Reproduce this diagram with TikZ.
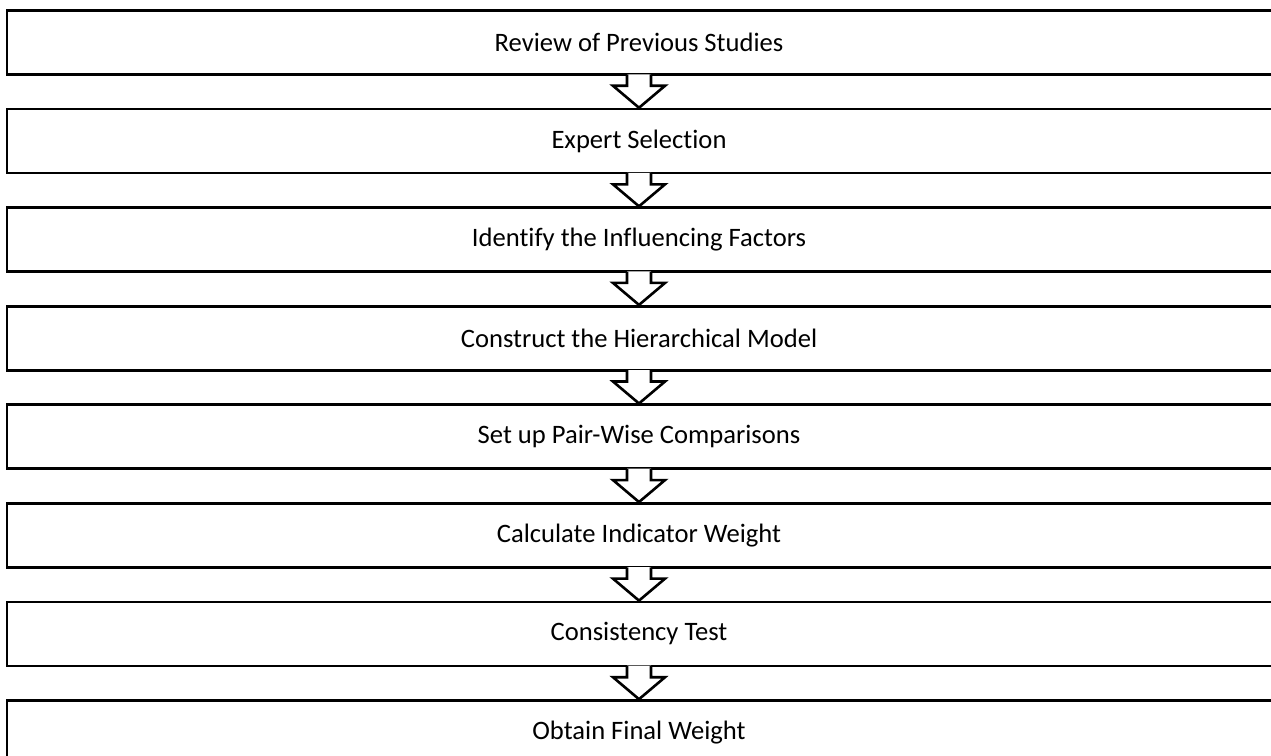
\documentclass[tikz,border=0pt]{standalone}
\usepackage{fontspec}
\setmainfont[Ligatures=NoCommon]{Carlito}
\usetikzlibrary{calc}
\begin{document}
\begin{tikzpicture}[x=1pt,y=1pt,
  box/.style={draw, line width=2.6pt, minimum width=1284pt, minimum height=64pt, inner sep=0pt, anchor=west},
  lbl/.style={font=\fontsize{26.6}{31}\selectfont, inner sep=0pt},
  arrowline/.style={draw, line width=2.6pt, line join=miter},
  arrowfill/.style={fill=white}]
\useasboundingbox (0,0) rectangle (1271,755);
\clip (0,0) rectangle (1271,755);
\foreach [count=\i] \t in {Review of Previous Studies, Expert Selection, Identify the Influencing Factors, Construct the Hierarchical Model, Set up Pair-Wise Comparisons, Calculate Indicator Weight, Consistency Test, Obtain Final Weight}{
  \pgfmathsetmacro\yc{755-42.5-98.57*(\i-1)}
  \node[box] (b\i) at (5.5,\yc) {};
  \node[lbl] (t\i) at (639,\yc) {\t};
}
\foreach \i in {1,...,7}{
  \pgfmathtruncatemacro\j{\i+1}
  \coordinate (s\i) at (t\i |- b\i.south);
  \coordinate (e\i) at (t\i |- b\j.north);
  \path[arrowfill] ($(s\i)+(-12,1.5)$) -- ($(s\i)+(-12,-10)$) -- ($(s\i)+(-26,-10)$) -- (e\i) -- ($(s\i)+(26,-10)$) -- ($(s\i)+(12,-10)$) -- ($(s\i)+(12,1.5)$) -- cycle;
  \path[arrowline] ($(s\i)+(-12,1.3)$) -- ($(s\i)+(-12,-10)$) -- ($(s\i)+(-26,-10)$) -- (e\i) -- ($(s\i)+(26,-10)$) -- ($(s\i)+(12,-10)$) -- ($(s\i)+(12,1.3)$);
}
\end{tikzpicture}
\end{document}
